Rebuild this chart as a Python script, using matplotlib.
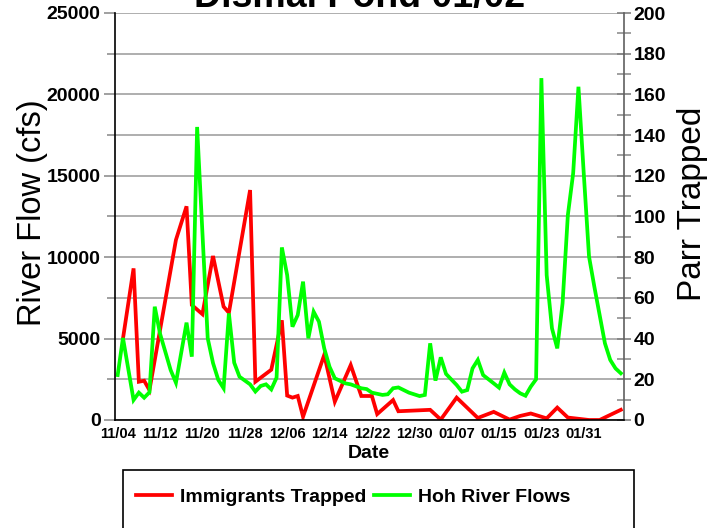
import matplotlib
matplotlib.use("Agg")
import matplotlib.pyplot as plt
from matplotlib.patches import Rectangle
from matplotlib.ticker import MultipleLocator

plt.rcParams['font.family'] = ['Liberation Sans', 'DejaVu Sans']

# day numbers counted from 11/04
flow_days = [0, 1, 3, 4, 5, 6, 7, 8, 10, 11, 13, 14, 15, 17, 18, 19, 20, 21, 22, 23,
             25, 26, 27, 28, 29, 30, 31, 32, 33, 34, 35, 36, 37, 38, 39, 40, 41, 43, 44,
             46, 47, 48, 50, 51, 52, 53, 55, 57, 58, 59, 60, 61, 62, 64, 65, 66, 67, 68,
             69, 71, 72, 73, 74, 75, 76, 77, 78, 79, 80, 81, 82, 83, 84, 85, 86, 87, 88,
             89, 90, 91, 92, 93, 94, 95]
flow_cfs = [2760, 5040, 1230, 1680, 1370, 1700, 6960, 5300, 3070, 2290, 5980, 3890, 18000,
            5020, 3500, 2460, 1950, 6550, 3520, 2660, 2190, 1750, 2090, 2190, 1880, 2600,
            10600, 8900, 5730, 6450, 8500, 5020, 6650, 6040, 4400, 3270, 2560, 2250, 2190,
            1950, 1900, 1680, 1540, 1580, 1950, 2000, 1680, 1470, 1540, 4710, 2420, 3850,
            2830, 2150, 1740, 1840, 3170, 3690, 2760, 2250, 1990, 2910, 2190, 1880, 1640,
            1490, 2050, 2500, 21000, 8900, 5630, 4400, 7170, 12590, 15150, 20470, 15150,
            10030, 8190, 6450, 4710, 3690, 3170, 2870]

parr_days = [1, 3, 4, 5, 6, 11, 13, 14, 16, 18, 20, 21, 25, 26, 29, 31, 32, 33, 34, 35,
             39, 41, 44, 46, 48, 49, 52, 53, 59, 61, 64, 68, 71, 74, 76, 78, 81, 83, 85,
             89, 91, 95]
parr_trapped = [40, 74.5, 18.8, 19.3, 14.7, 88.5, 105, 56.5, 52, 80.6, 55.7, 52.7, 113,
                18.8, 24.7, 49, 12, 11, 11.8, 1.6, 32, 9, 27, 11.8, 11.8, 2.9, 9.8, 4.3,
                5, 0.2, 11, 1, 4, 0.2, 2, 3.2, 0.8, 6.1, 1.2, 0, 0, 5]

tick_days = [0, 8, 16, 24, 32, 40, 48, 56, 64, 72, 80, 88]
tick_labels = ['11/04', '11/12', '11/20', '11/28', '12/06', '12/14', '12/22', '12/30',
               '01/07', '01/15', '01/23', '01/31']

fig = plt.figure(figsize=(7.1, 5.28), dpi=100)
ax = fig.add_axes([114.5 / 710, 1 - 420 / 528, (624 - 114.5) / 710, 407 / 528])
ax2 = ax.twinx()

# green on top of red
ax.set_zorder(ax2.get_zorder() + 1)
ax.patch.set_visible(False)

red_line, = ax2.plot(parr_days, parr_trapped, color='#ff0000', lw=2.7,
                     solid_joinstyle='miter', label='Immigrants Trapped')
green_line, = ax.plot(flow_days, flow_cfs, color='#00ff00', lw=2.7,
                      solid_joinstyle='miter', label='Hoh River Flows')

ax.set_xlim(-0.6, 95.6)
ax.set_ylim(0, 25000)
ax2.set_ylim(0, 200)

ax.yaxis.set_major_locator(MultipleLocator(5000))
ax.yaxis.set_minor_locator(MultipleLocator(2500))
ax2.yaxis.set_major_locator(MultipleLocator(20))
ax2.yaxis.set_minor_locator(MultipleLocator(10))
ax2.yaxis.grid(True, which='major', color='#a8a8a8', lw=1.3)
ax2.set_axisbelow(True)

ax.tick_params(axis='y', which='major', direction='out', length=8, width=1.2,
               color='#909090', labelsize=14, pad=2)
ax.tick_params(axis='y', which='minor', direction='out', length=6, width=1.2,
               color='#909090')
ax2.tick_params(axis='y', which='major', direction='inout', length=10, width=1.2,
                color='#808080', labelsize=14, pad=2)
ax2.tick_params(axis='y', which='minor', direction='inout', length=10, width=1.2,
                color='#909090')
for lab in ax.get_yticklabels() + ax2.get_yticklabels():
    lab.set_fontweight('bold')

ax.set_xticks(tick_days, tick_labels, fontsize=10.5, fontweight='bold')
ax.tick_params(axis='x', length=0, pad=5)
ax2.tick_params(axis='x', length=0)

for a in (ax, ax2):
    a.spines['top'].set_visible(False)
ax.spines['right'].set_visible(False)
ax2.spines['right'].set_color('#606060')
ax2.spines['left'].set_visible(False)
ax2.spines['bottom'].set_visible(False)
ax.spines['left'].set_color('black')
ax.spines['bottom'].set_color('black')
ax.spines['left'].set_linewidth(1.2)
ax.spines['bottom'].set_linewidth(1.2)
ax2.spines['right'].set_linewidth(1.2)

ax.set_xlabel('Date', fontsize=14, fontweight='bold', labelpad=3)
ax.set_ylabel('River Flow (cfs)', fontsize=23.5)
ax.yaxis.set_label_coords(-0.13, 0.51)
ax2.set_ylabel('Parr Trapped', fontsize=24)
ax2.yaxis.set_label_coords(1.104, 0.53)

fig.text(0.507, 1 - 7 / 528, 'Dismal Pond 01/02', ha='center', va='baseline',
         fontsize=27, fontweight='bold')

# legend box, cut off by the bottom edge
fig.add_artist(Rectangle((123 / 710, -0.05), (634 - 123) / 710, 0.05 + 1 - 470 / 528,
                         transform=fig.transFigure, fill=False, ec='black', lw=1.2))
fig.legend([red_line, green_line], ['Immigrants Trapped', 'Hoh River Flows'],
           loc='center', bbox_to_anchor=(353 / 710, 1 - 497 / 528), ncol=2,
           frameon=False, prop={'weight': 'bold', 'size': 14},
           handlelength=1.85, columnspacing=0.4, handletextpad=0.4)

fig.savefig('out.png', dpi=100)
